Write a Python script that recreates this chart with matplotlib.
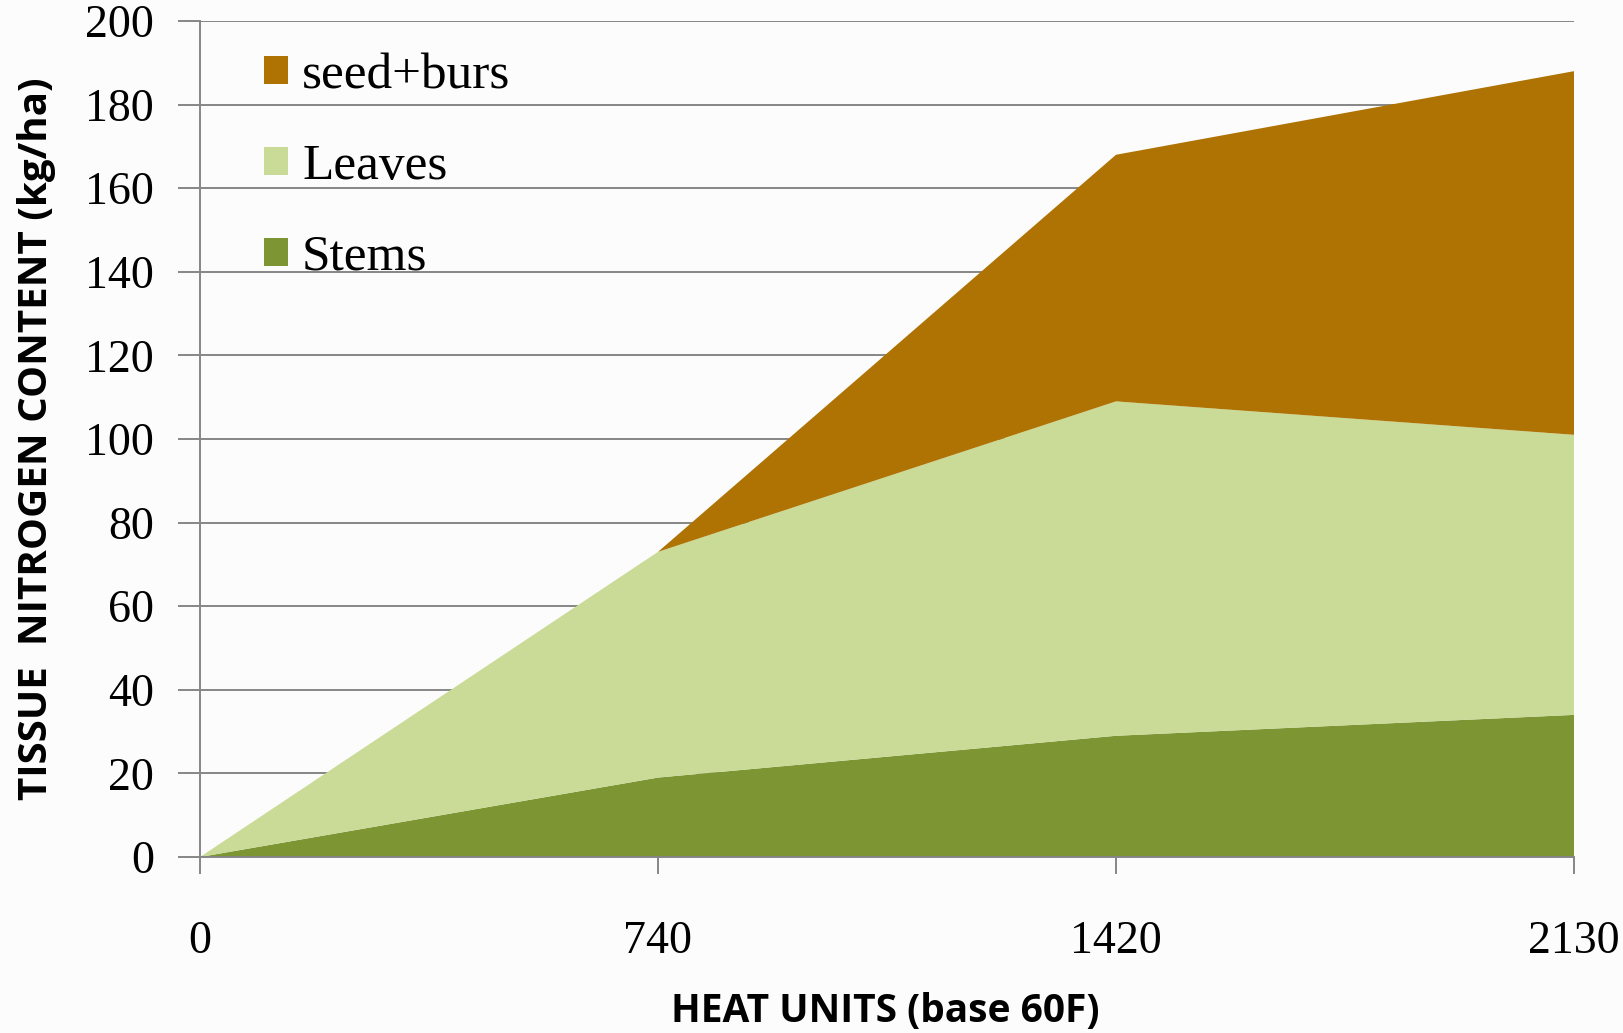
import matplotlib
matplotlib.use("Agg")
import matplotlib.pyplot as plt
from matplotlib.patches import Patch

categories = ["0", "740", "1420", "2130"]
stems = [0, 19, 29, 34]
leaves = [0, 54, 80, 67]
seed_burs = [0, 0, 59, 87]
series_labels = ["Stems", "Leaves", "seed+burs"]
series_colors = ["#7E9533", "#C9DB96", "#AF7303"]
yticks = [0, 20, 40, 60, 80, 100, 120, 140, 160, 180, 200]

bg = "#fcfcfc"
fig = plt.figure(figsize=(16.23, 10.33), dpi=100, facecolor=bg)
ax = fig.add_axes([200/1623, 1-857/1033, (1574-200)/1623, (857-21)/1033])
ax.set_facecolor(bg)

x = list(range(len(categories)))
ax.stackplot(x, stems, leaves, seed_burs, colors=series_colors, labels=series_labels, zorder=2)

ax.set_xlim(0, len(categories)-1)
ax.set_ylim(0, 200)
ax.set_yticks(yticks)
ax.set_xticks(x)
ax.set_xticklabels(categories)
ax.yaxis.grid(True, color="#868686", linewidth=1.4, zorder=1)
ax.set_axisbelow(True)
for s in ["top", "right"]:
    ax.spines[s].set_visible(False)
for s in ["left", "bottom"]:
    ax.spines[s].set_color("#868686")
    ax.spines[s].set_linewidth(1.4)
    ax.spines[s].set_zorder(3)
ax.tick_params(axis="y", length=16, width=1.4, color="#868686", pad=17,
               labelsize=33, labelfontfamily="Liberation Serif")
ax.tick_params(axis="x", length=12, width=1.4, color="#868686", pad=34,
               labelsize=33, labelfontfamily="Liberation Serif")

ax.set_ylabel("TISSUE  NITROGEN CONTENT (kg/ha)", fontsize=29, fontweight="bold",
              family="Open Sans")
ax.yaxis.set_label_coords(-0.105, 0.5)
ax.set_xlabel("HEAT UNITS (base 60F)", fontsize=28, fontweight="bold",
              family="Open Sans")
ax.xaxis.set_label_coords(0.499, -0.161)

handles = [Patch(facecolor=c, edgecolor="none") for c in series_colors[::-1]]
leg = ax.legend(handles, series_labels[::-1], loc="upper left",
                bbox_to_anchor=(264/1623, 1-53/1033), bbox_transform=fig.transFigure,
                frameon=False, prop={"family": "Liberation Serif", "size": 37},
                handlelength=0.46, handleheight=0.46, handletextpad=0.28,
                labelspacing=0.86, borderpad=0, borderaxespad=0)

fig.savefig("out.png", dpi=100, facecolor=bg)
